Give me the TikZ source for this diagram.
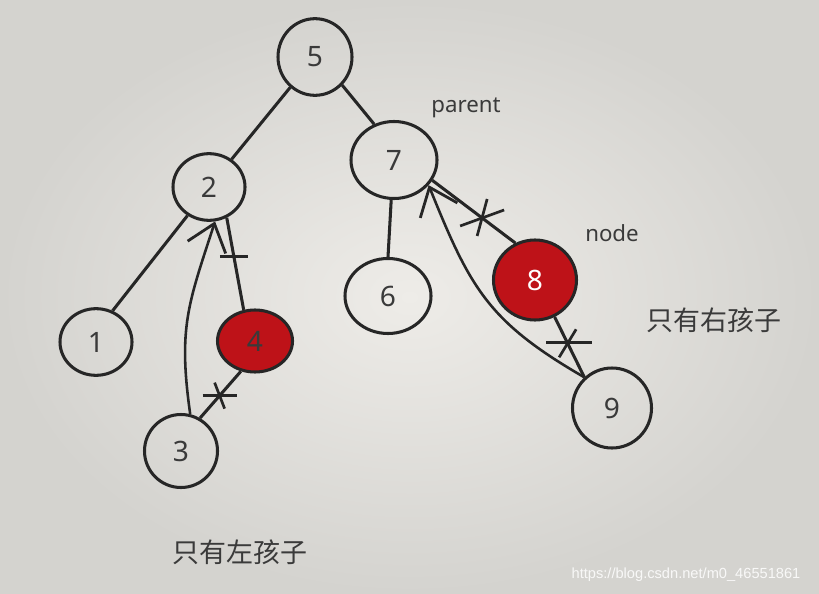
\documentclass[tikz,border=0pt]{standalone}
\usepackage{fontspec}
\setmainfont{Noto Sans}
\newfontfamily\cjk{Noto Sans CJK SC}
\newfontfamily\wmfont{Liberation Sans}
\usetikzlibrary{arrows.meta,shapes.geometric}

\definecolor{ink}{RGB}{38,38,38}
\definecolor{txt}{RGB}{58,58,58}
\definecolor{hitred}{RGB}{190,18,24}
\definecolor{bgin}{RGB}{238,236,232}
\definecolor{bgout}{RGB}{212,211,207}

\begin{document}
\begin{tikzpicture}[x=0.03cm,y=0.03cm,
  >={Straight Barb[length=7.5mm,width=12mm,line width=2.4pt]},
  vtx/.style={ellipse,draw=ink,line width=2.6pt,inner sep=0pt,text=txt,
    font=\fontsize{24}{24}\selectfont},
  hit/.style={fill=hitred},
  link/.style={draw=ink,line width=2.6pt},
  back/.style={draw=ink,line width=2.2pt,->},
  cut/.style={draw=ink,line width=2.3pt},
  tag/.style={text=txt,font=\fontsize{19}{19}\selectfont},
  note/.style={text=txt,font=\cjk\fontsize{23}{23}\selectfont}]
  % background
  \shade[inner color=bgin,outer color=bgout] (0,0) rectangle (819,-594);

  % tree
  \node[vtx,minimum width=2.22cm,minimum height=2.3cm] (n5) at (315,-57) {5};
  \node[vtx,minimum width=2.16cm,minimum height=2.0cm] (n2) at (209,-187) {2};
  \node[vtx,minimum width=2.58cm,minimum height=2.31cm] (n7) at (394,-160) {7};
  \node[vtx,minimum width=2.16cm,minimum height=2.0cm] (n1) at (96,-342) {1};
  \node[vtx,hit,minimum width=2.25cm,minimum height=1.86cm] (n4) at (255,-341) {4};
  \node[vtx,minimum width=2.58cm,minimum height=2.25cm] (n6) at (388,-296) {6};
  \node[vtx,hit,text=white,minimum width=2.49cm,minimum height=2.4cm] (n8) at (535,-280) {8};
  \node[vtx,minimum width=2.19cm,minimum height=2.19cm] (n3) at (181,-451) {3};
  \node[vtx,minimum width=2.37cm,minimum height=2.4cm] (n9) at (612,-408) {9};

  % labels
  \node[tag] (par) at (466,-108) {parent};
  \node[tag] (cur) at (612,-233) {node};
  \node[note] (right) at (714,-320) {只有右孩子};
  \node[note] (left) at (240,-552) {只有左孩子};
  \node[text=white,opacity=0.85,font=\wmfont\fontsize{12.5}{12.5}\selectfont] (wm)
    at (686,-575) {https://blog.csdn.net/m0\_46551861};

  % edges
  \draw[link] (n5) -- (n2);
  \draw[link] (n7.119) -- (n5.-46);
  \draw[link] (n2.-127) -- (n1.62);
  \draw[link] (n7.-94) -- (n6.90);
  \draw[link] (n2.-60) -- coordinate[pos=.42] (c1) (n4.110);
  \draw[link] (n4.-115) -- coordinate[pos=.52] (c2) (n3.60);
  \draw[link] (n7.-28) -- coordinate[pos=.6] (c3) (n8.118);
  \draw[link] (n8.-62) -- coordinate[pos=.42] (c4) (n9.132);

  % cut marks
  \draw[cut] (c1) ++(-14,0) -- ++(28,0);
  \draw[cut] (c2) ++(-17,0) -- ++(34,0);
  \draw[cut] (c2) ++(-5,13) -- ++(10,-26);
  \draw[cut] (c3) ++(-22,-8) -- ++(44,16);
  \draw[cut] (c3) ++(5,19) -- ++(-10,-37);
  \draw[cut] (c4) ++(-21,0) -- ++(46,0);
  \draw[cut] (c4) ++(9,13) -- ++(-17,-28);

  % new links
  \draw[back] (n3.76) to[out=98,in=-108,looseness=1.15] (n2.-80);
  \draw[back] (n9.132) to[out=150,in=-68,looseness=1.15] (n7.-36);
\end{tikzpicture}
\end{document}
